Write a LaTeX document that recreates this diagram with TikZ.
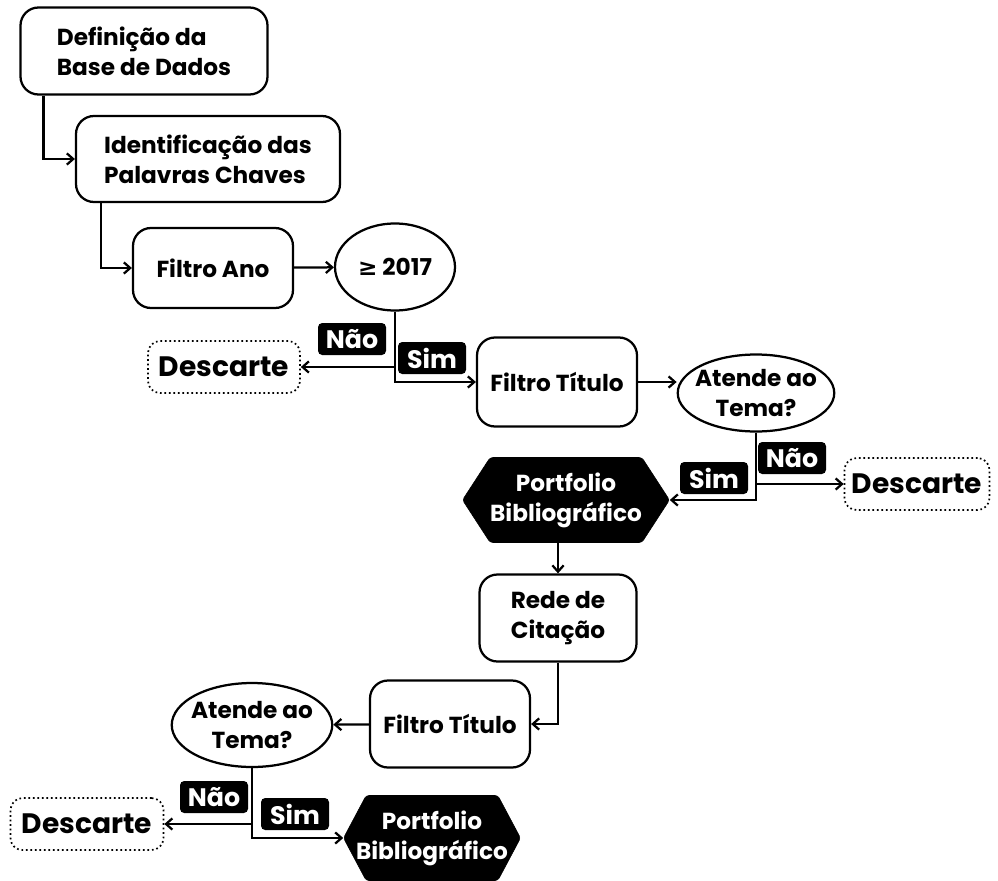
\documentclass[tikz,border=0pt]{standalone}
\usepackage{fontspec}
\setmainfont{Poppins}
\newfontfamily\symfont{DejaVu Sans}
\usetikzlibrary{shapes.geometric,shapes.symbols,arrows.meta}

\begin{document}
\begin{tikzpicture}[
  >={Straight Barb[length=4.5pt,width=8pt]},
  procbox/.style={rectangle, rounded corners=0.45cm, draw=black, line width=1.6pt, minimum width=4.0cm, minimum height=2.15cm, align=center, font={\bfseries\fontsize{16.5}{21.3}\selectfont}},
  decision/.style={ellipse, draw=black, line width=1.6pt, inner sep=0pt, align=center, font={\bfseries\fontsize{16.5}{21.3}\selectfont}},
  discard/.style={rectangle, rounded corners=0.3cm, draw=black, line width=1.2pt, dotted, minimum height=1.3cm, font={\bfseries\fontsize{20}{24}\selectfont}},
  portfolio/.style={signal, signal to=west and east, signal pointer angle=114, fill=black, draw=black, text=white, rounded corners=2pt, minimum width=5.1cm, minimum height=2.125cm, inner sep=0pt, align=center, font={\bfseries\fontsize{16.5}{21.3}\selectfont}},
  tag/.style={rectangle, rounded corners=3pt, fill=black, text=white, inner sep=1pt, minimum width=1.7cm, minimum height=0.8cm, font={\bfseries\fontsize{18}{20}\selectfont}},
  flow/.style={->, line width=1.6pt}
]
\useasboundingbox (0,0) rectangle (24.95,-22);

% nodes
\node[procbox, align=left, minimum width=6.175cm, minimum height=2.175cm] (base) at (3.6,-1.275) {Definição da\\Base de Dados};
\node[procbox, align=left, minimum width=6.6cm] (palavras) at (5.2,-3.975) {Identificação das\\Palavras Chaves};
\node[procbox, minimum height=2.0cm] (ano) at (5.325,-6.7) {Filtro Ano};
\node[decision, minimum width=3.0cm, minimum height=2.175cm] (anodec) at (9.875,-6.675) {{\symfont ≥} 2017};
\node[discard, minimum width=3.8cm] (desc1) at (5.6,-9.175) {Descarte};
\node[tag] (nao1) at (8.8,-8.475) {Não};
\node[tag] (sim1) at (10.8,-8.95) {Sim};
\node[procbox, minimum height=2.225cm] (titulo1) at (13.925,-9.55) {Filtro Título};
\node[decision, inner xsep=-4pt, minimum width=3.8cm, minimum height=1.925cm] (tema1) at (18.9,-9.825) {Atende ao\\Tema?};
\node[tag] (nao2) at (19.8,-11.45) {Não};
\node[tag] (sim2) at (17.85,-11.95) {Sim};
\node[discard, minimum width=3.625cm] (desc2) at (22.925,-12.1) {Descarte};
\node[portfolio] (port1) at (14.15,-12.5) {Portfolio\\Bibliográfico};
\node[procbox, minimum width=3.925cm, minimum height=2.175cm] (rede) at (13.95,-15.45) {Rede de\\Citação};
\node[procbox, minimum height=2.175cm] (titulo2) at (11.25,-18.1) {Filtro Título};
\node[decision, inner xsep=-3pt, minimum width=3.825cm, minimum height=2.1cm] (tema2) at (6.3,-18.125) {Atende ao\\Tema?};
\node[tag] (nao3) at (5.35,-19.925) {Não};
\node[tag] (sim3) at (7.375,-20.35) {Sim};
\node[discard, minimum width=3.825cm] (desc3) at (2.175,-20.6) {Descarte};
\node[portfolio, inner xsep=-0.25cm, signal pointer angle=124, minimum width=4.375cm] (port2) at (10.8,-20.95) {Portfolio\\Bibliográfico};

% connectors
\draw[flow] ([xshift=0.6cm]base.south west) |- (palavras.west);
\draw[flow] ([xshift=0.65cm]palavras.south west) |- (ano.west);
\draw[flow] (ano) -- (anodec);
\draw[flow] (anodec.south) |- (desc1.east);
\draw[flow] (anodec.south) |- (titulo1.west);
\draw[flow] (titulo1.east) -- (titulo1.east -| tema1.west);
\draw[flow] (tema1.south) |- (desc2.west);
\draw[flow] (tema1.south) |- (port1.east);
\draw[flow] (rede.north |- port1.south) -- (rede.north);
\draw[flow] (rede.south) |- (titulo2.east);
\draw[flow] (titulo2) -- (tema2);
\draw[flow] (tema2.south) |- (desc3.east);
\draw[flow] (tema2.south) |- (port2.west);
\end{tikzpicture}
\end{document}
